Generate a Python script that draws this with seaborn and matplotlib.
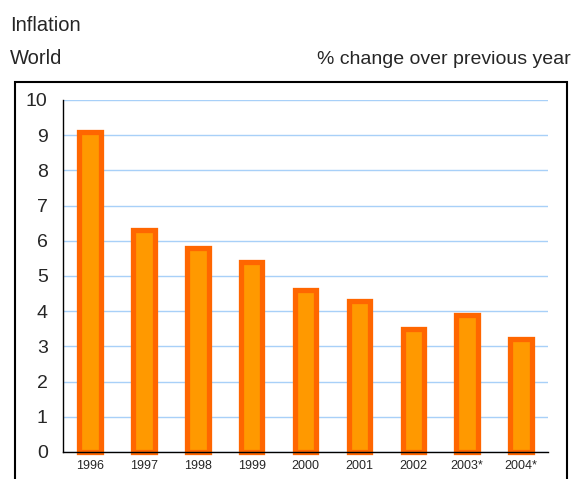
import matplotlib
matplotlib.use("Agg")
import matplotlib.pyplot as plt
import matplotlib.patches as mpatches
import pandas as pd
import seaborn as sns

# data
years = ["1996", "1997", "1998", "1999", "2000", "2001", "2002", "2003*", "2004*"]
inflation = [9.1, 6.3, 5.8, 5.4, 4.6, 4.3, 3.5, 3.9, 3.2]

df = pd.DataFrame({"year": years, "inflation": inflation})

sns.set_style("white")
plt.rcParams["font.family"] = ["Liberation Sans Narrow", "Liberation Sans", "DejaVu Sans"]

fig = plt.figure(figsize=(5.74, 4.79), dpi=100)
ax = fig.add_axes([63 / 574, 1 - 452 / 479, 485 / 574, 352 / 479])

sns.barplot(data=df, x="year", y="inflation", color="#FF9900", width=0.40,
            edgecolor="#FF6600", linewidth=3.8, saturation=1, ax=ax)
for p in ax.patches:
    p.set_clip_on(False)

ax.set_ylim(0, 10)
ax.set_xlim(-0.5, len(years) - 0.5)
ax.set_yticks(range(0, 11))
ax.yaxis.grid(True, color="#A8D0F8", linewidth=1)
ax.set_axisbelow(True)

# ticks on the category boundaries, labels centred on the bars
ax.set_xticks([i - 0.5 for i in range(len(years) + 1)], minor=False)
ax.set_xticklabels([])
ax.set_xticks(range(len(years)), minor=True)
ax.set_xticklabels(years, minor=True, fontsize=9)
ax.tick_params(axis="x", which="minor", length=0, pad=6)
ax.tick_params(axis="x", which="major", length=4, width=1, color="black", direction="out")
ax.tick_params(axis="y", length=5, width=1, color="black", direction="out", labelsize=14, pad=6)

for s in ["top", "right"]:
    ax.spines[s].set_visible(False)
for s in ["left", "bottom"]:
    ax.spines[s].set_color("black")
    ax.spines[s].set_linewidth(1)

ax.set_xlabel("")
ax.set_ylabel("")

# outer frame around the plot
frame = mpatches.Rectangle((15 / 574, -0.05), 552 / 574, 1 - 82 / 479 + 0.05,
                           transform=fig.transFigure, fill=False,
                           edgecolor="black", linewidth=1.5, clip_on=False)
fig.patches.append(frame)

fig.text(10 / 574, 1 - 31 / 479, "Inflation", fontsize=14.5, ha="left", va="baseline")
fig.text(10 / 574, 1 - 64 / 479, "World", fontsize=14.5, ha="left", va="baseline")
fig.text(571 / 574, 1 - 64 / 479, "% change over previous year", fontsize=14,
         ha="right", va="baseline")

fig.savefig("out.png", dpi=100)
